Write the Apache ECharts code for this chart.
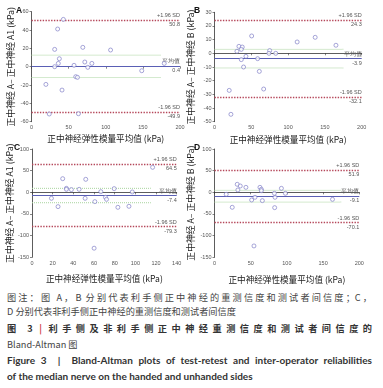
<!DOCTYPE html>
<html>
<head>
<meta charset="utf-8">
<script src="https://cdn.jsdelivr.net/npm/echarts@6/dist/echarts.min.js"></script>
<style>
  body { margin: 0; background: #fff; width: 383px; height: 388px; position: relative; overflow: hidden; }
  #chart { position: absolute; left: 0; top: 0; width: 383px; height: 290px; }
  .cap { position: absolute; left: 7px; width: 365px; font-family: "Noto Sans CJK SC", sans-serif; font-size: 9.2px; line-height: 12px; color: #444; white-space: nowrap; }
  .just { text-align: justify; text-align-last: justify; white-space: normal; }
  .bold { font-weight: bold; color: #333; }
  .en { font-family: Lato, "Open Sans", sans-serif; font-size: 10px; font-weight: bold; color: #333; }
  .bar { color: #d04040; }
</style>
</head>
<body>
<div id="chart"></div>
<div class="cap just" style="top:291px">图注：图 A，B 分别代表利手侧正中神经的重测信度和测试者间信度；C，</div>
<div class="cap" style="top:305px">D 分别代表非利手侧正中神经的重测信度和测试者间信度</div>
<div class="cap just bold" style="top:322px">图 3 <span class="bar">|</span> 利手侧及非利手侧正中神经重测信度和测试者间信度的</div>
<div class="cap" style="top:338px">Bland-Altman 图</div>
<div class="cap just en" style="top:354px">Figure 3 &nbsp;<span>|</span>&nbsp; Bland-Altman plots of test-retest and inter-operator reliabilities</div>
<div class="cap en" style="top:370px">of the median nerve on the handed and unhanded sides</div>

<script>
// 各面板数据：[平均值, 差值]
const pointsA = [[42.9, 51.6], [35.2, 41.1], [31.2, 18.9], [37.5, 8.7], [36.1, 3.6], [31.2, 0], [69.1, 21.1],
  [71.8, 5.1], [75.8, -0.7], [81.3, 3.6], [57.3, 1.5], [59.6, -10.9], [61.9, -11.6], [41.1, -25.5],
  [19.4, -19.3], [23.9, -51.6], [63.2, -51.3], [106.5, 18.2], [148.5, -4.4], [178.8, 3.6]];
const pointsB = [[50.5, 12.7], [33.2, 5.1], [37.7, 4.6], [36.4, 2.9], [30.5, 1.5], [36.4, -4.6], [42.7, -2.2],
  [39.5, -10], [58.6, -3.9], [60.9, -13.2], [75, 2], [74, 0], [83.2, 0], [66.8, -26.1], [20, -27.1],
  [22.3, -44.6], [112.3, 8.3], [136.8, 11.7], [165, 5.9]];
const pointsC = [[18.8, -13.8], [25.2, -33], [29.7, 31.5], [33.3, 9.2], [33.3, 6.9], [38.1, 6.2], [45.6, 6.9],
  [52, 30], [51.4, -13.8], [60.8, -21.5], [66.6, 1.5], [71.1, -11.5], [72.1, -16.2], [79.5, 8.5],
  [83.1, -34.6], [93.8, -32.3], [97, 0.8], [116.7, 57.7], [60.1, -129]];
const pointsD = [[16.2, -4.6], [24.5, -34.6], [31.4, 18.5], [32.3, 5.4], [35.6, 14.6], [43.4, 11.5],
  [51.3, -17.7], [55.9, -11.5], [62.8, 11.5], [64.7, 6.9], [64.7, 3.8], [66.1, -19.2], [82.7, -2.3],
  [83.6, -11.5], [83.1, -35.4], [92.4, 9.2], [97.9, -2.3], [163, -16.2], [54.5, -123.8]];

// 一致性界限：[+1.96 SD, 平均值, -1.96 SD]
const limitsA = [50.8, 0.4, -49.9];
const limitsB = [24.3, -3.9, -32.1];
const limitsC = [64.5, -7.4, -79.3];
const limitsD = [51.9, -9.1, -70.1];

// 平均值置信区间（绿色虚线）：[上, 下, 线段终点x]
const ciA = [12.6, -11.8, 175];
const ciB = [2.9, -10.7, 175];
const ciC = [9.2, -24, 115];
const ciD = [4.6, -22.6, 175];

const panelLetters = ["A", "B", "C", "D"];
const yTitles = ["正中神经 A– 正中神经 A1 (kPa)", "正中神经 A– 正中神经 B (kPa)",
  "正中神经 A– 正中神经 A1 (kPa)", "正中神经 A– 正中神经 B (kPa)"];
const xTitle = "正中神经弹性模量平均值 (kPa)";
const limitNames = ["+1.96 SD", "平均值", "-1.96 SD"];

const xRanges = [[0, 200, 50], [0, 200, 50], [0, 140, 20], [0, 200, 50]];
const yRanges = [[-60, 60, 20], [-50, 30, 10], [-150, 100, 50], [-150, 100, 50]];

const chart = echarts.init(document.getElementById("chart"));

const grids = [
  { left: 31.5, top: 11.7, width: 148.5, height: 110 },
  { left: 214.5, top: 12.3, width: 147.2, height: 109.4 },
  { left: 32, top: 149, width: 144.7, height: 108.3 },
  { left: 214.5, top: 149, width: 144.8, height: 108.3 },
];
const xNameGap = [13, 14, 17, 18];
const yNameGap = [16, 19, 18, 19.5];
const letterPos = [[11, 1], [189, 1], [9, 138], [189, 138]];

const allPoints = [pointsA, pointsB, pointsC, pointsD];
const allLimits = [limitsA, limitsB, limitsC, limitsD];
const allCi = [ciA, ciB, ciC, ciD];

const RED = "#b5475a";
const BLUE = "#5a5fb5";
const GREEN = "#a9d49e";

const axisCommon = {
  axisLine: { lineStyle: { color: "#333", width: 0.8 } },
  axisTick: { length: 2, lineStyle: { color: "#333", width: 0.6 } },
  axisLabel: { fontSize: 5.5, color: "#555", margin: 3, fontFamily: "Liberation Sans" },
  splitLine: { show: false },
  nameLocation: "middle",
  nameTextStyle: { fontSize: 8.6, color: "#222", fontFamily: "Noto Sans CJK SC" },
};

const xAxis = [], yAxis = [], series = [];
grids.forEach((g, i) => {
  xAxis.push({
    ...axisCommon, type: "value", gridIndex: i,
    min: xRanges[i][0], max: xRanges[i][1], interval: xRanges[i][2],
    name: xTitle, nameGap: xNameGap[i],
  });
  yAxis.push({
    ...axisCommon, type: "value", gridIndex: i,
    min: yRanges[i][0], max: yRanges[i][1], interval: yRanges[i][2],
    name: yTitles[i], nameGap: yNameGap[i],
    nameTextStyle: { ...axisCommon.nameTextStyle, fontSize: 8.8 },
  });

  const lim = allLimits[i];
  const ci = allCi[i];
  const lineData = lim.map((v, k) => ({
    yAxis: v,
    lineStyle: k === 1
      ? { color: BLUE, width: 1.2, type: "solid" }
      : { color: RED, width: 1.4, type: "dotted" },
    label: {
      position: "insideEnd", distance: 0,
      formatter: limitNames[k] + "\n" + v,
      fontSize: 5.5, lineHeight: 9, color: "#555", align: "right",
      fontFamily: "Liberation Sans",
    },
  }));

  series.push({
    type: "scatter", xAxisIndex: i, yAxisIndex: i,
    data: allPoints[i],
    symbol: "circle", symbolSize: 4,
    itemStyle: { color: "#fff", borderColor: "#7573c2", borderWidth: 0.8 },
    z: 5,
    markLine: { silent: true, symbol: "none", data: lineData, animation: false },
  });
  [ci[0], ci[1]].forEach(v => {
    series.push({
      type: "line", xAxisIndex: i, yAxisIndex: i,
      data: [[0, v], [ci[2], v]],
      symbol: "none",
      lineStyle: { color: GREEN, width: 1, type: "dotted" },
      z: 2,
    });
  });
});

chart.setOption({
  animation: false,
  grid: grids,
  xAxis, yAxis, series,
  title: panelLetters.map((t, i) => ({
    text: t, left: letterPos[i][0], top: letterPos[i][1],
    textStyle: { fontSize: 8.5, fontWeight: "bold", color: "#111", fontFamily: "Liberation Sans" },
  })),
});
</script>
</body>
</html>
